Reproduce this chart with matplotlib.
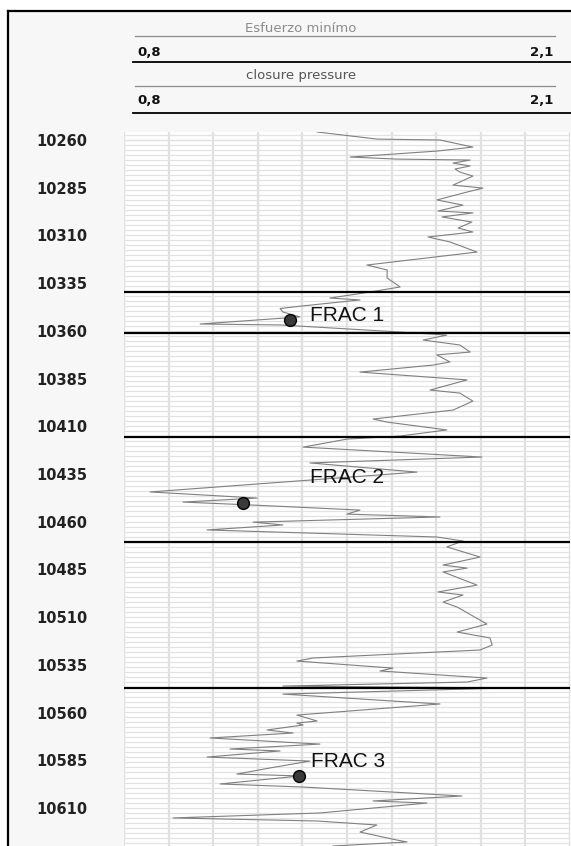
import numpy as np
import matplotlib
matplotlib.use("Agg")
import matplotlib.pyplot as plt
from matplotlib.patches import Rectangle

# curva de esfuerzo mínimo (closure pressure) vs profundidad (ft)
stress = [
    1.363, 1.537, 1.721, 1.817, 1.712, 1.459, 1.596, 1.809, 1.759, 1.809,
    1.765, 1.779, 1.817, 1.759, 1.846, 1.788, 1.712, 1.788, 1.715, 1.817,
    1.727, 1.814, 1.774, 1.817, 1.686, 1.750, 1.829, 1.508, 1.567, 1.567,
    1.605, 1.497, 1.400, 1.488, 1.322, 1.255, 1.263, 1.313, 1.022, 1.255,
    1.605, 1.741, 1.672, 1.779, 1.809, 1.712, 1.750, 1.701, 1.488, 1.800,
    1.692, 1.779, 1.817, 1.759, 1.526, 1.567, 1.741, 1.605, 1.450, 1.322,
    1.843, 1.342, 1.654, 0.876, 1.188, 0.972, 1.167, 1.488, 1.450, 1.721,
    1.176, 1.263, 1.042, 1.712, 1.788, 1.741, 1.838, 1.730, 1.800, 1.730,
    1.829, 1.715, 1.788, 1.730, 1.771, 1.858, 1.771, 1.867, 1.873, 1.838,
    1.351, 1.304, 1.584, 1.546, 1.858, 1.800, 1.263, 1.916, 1.263, 1.721,
    1.304, 1.363, 1.304, 1.322, 1.217, 1.293, 1.051, 1.371, 1.109, 1.255,
    1.042, 1.342, 1.226, 1.129, 1.313, 1.080, 1.322, 1.785, 1.526, 1.683,
    1.371, 0.943, 1.363, 1.537, 1.488, 1.596, 1.625, 1.409,
]
depth = [
    10255.8, 10259.5, 10260.0, 10263.7, 10265.8, 10268.9, 10270.0, 10270.5, 10272.1, 10273.6,
    10275.2, 10276.8, 10278.9, 10283.6, 10285.2, 10287.8, 10291.4, 10294.1, 10297.2, 10298.2,
    10300.3, 10303.0, 10306.1, 10308.2, 10310.8, 10313.4, 10318.7, 10325.5, 10328.1, 10332.3,
    10337.0, 10340.2, 10342.8, 10343.8, 10346.9, 10348.3, 10350.1, 10352.7, 10356.4, 10356.9,
    10360.6, 10362.2, 10364.8, 10367.4, 10371.1, 10372.6, 10376.3, 10377.9, 10381.6, 10385.7,
    10391.0, 10392.6, 10396.8, 10401.5, 10406.2, 10407.8, 10411.9, 10415.1, 10416.7, 10420.9,
    10426.1, 10429.2, 10434.0, 10444.4, 10447.6, 10449.7, 10451.2, 10453.9, 10456.0, 10457.5,
    10460.2, 10461.7, 10464.3, 10468.0, 10470.1, 10473.2, 10478.5, 10482.7, 10484.3, 10486.3,
    10493.2, 10496.8, 10498.4, 10502.1, 10504.7, 10513.6, 10517.8, 10520.9, 10524.6, 10527.2,
    10531.4, 10533.0, 10536.7, 10538.2, 10541.9, 10544.0, 10546.1, 10547.1, 10550.3, 10555.5,
    10561.3, 10564.4, 10565.5, 10566.5, 10569.1, 10570.7, 10573.3, 10576.5, 10579.1, 10580.1,
    10583.3, 10585.4, 10589.0, 10592.2, 10593.2, 10597.4, 10599.0, 10603.7, 10606.3, 10607.4,
    10612.6, 10615.2, 10616.8, 10618.9, 10622.6, 10626.8, 10627.8, 10629.9,
]

# fracturas
frac_labels = ["FRAC 1", "FRAC 2", "FRAC 3"]
frac_stress = [1.284, 1.147, 1.310]
frac_depth = [10354.3, 10450.2, 10593.2]
frac_text_stress = [1.342, 1.342, 1.345]
frac_text_depth = [10351.7, 10437.0, 10585.4]

# límites de zonas (líneas negras)
zone_lines = [10339.6, 10361.1, 10415.6, 10470.6, 10547.1]

depth_ticks = list(range(10260, 10611, 25))
x_min, x_max = 0.8, 2.1
depth_top, depth_bottom = 10255.8, 10629.9

W, H = 571, 846
fig = plt.figure(figsize=(W / 100, H / 100), dpi=100)
fig.patch.set_facecolor("white")

# capa de fondo en coordenadas de pixel
bg = fig.add_axes([0, 0, 1, 1])
bg.set_xlim(0, W)
bg.set_ylim(H, 0)
bg.axis("off")
bg.add_patch(Rectangle((8, 11), W - 8, H - 11, facecolor="#f7f7f7", edgecolor="none"))
bg.plot([8, 8], [11, H], color="black", lw=1.6)
bg.plot([8, W], [11, 11], color="black", lw=1.6)

# encabezado
hdr_font = dict(family="DejaVu Sans", fontsize=9.5)
bg.text(301, 28, "Esfuerzo minímo", color="#8c8c8c", ha="center", va="center", **hdr_font)
bg.plot([135, 555], [36, 36], color="#8c8c8c", lw=0.9)
bg.text(137, 52, "0,8", color="#111111", ha="left", va="center", fontweight="bold", **hdr_font)
bg.text(553, 52, "2,1", color="#111111", ha="right", va="center", fontweight="bold", **hdr_font)
bg.plot([133, W], [62, 62], color="black", lw=1.3)
bg.text(301, 75, "closure pressure", color="#555555", ha="center", va="center", **hdr_font)
bg.plot([135, 555], [86, 86], color="#8c8c8c", lw=0.9)
bg.text(137, 101, "0,8", color="#111111", ha="left", va="center", fontweight="bold", **hdr_font)
bg.text(553, 101, "2,1", color="#111111", ha="right", va="center", fontweight="bold", **hdr_font)
bg.plot([133, W], [113, 113], color="black", lw=1.3)

# pista de registro
ax = fig.add_axes([124 / W, 0, 446 / W, (H - 132) / H])
ax.set_facecolor("white")
ax.set_xlim(x_min, x_max)
ax.set_ylim(depth_bottom, depth_top)

for xv in np.linspace(x_min, x_max, 11):
    ax.axvline(xv, color="#e0e0e0", lw=1.6, zorder=1)
for yv in np.arange(10260, depth_bottom, 2.63):
    ax.axhline(yv, color="#e2e2e2", lw=0.9, zorder=1)
for yv in np.arange(10260, depth_top - 3, -2.63):
    ax.axhline(yv, color="#e2e2e2", lw=0.9, zorder=1)

for zl in zone_lines:
    ax.axhline(zl, color="black", lw=1.6, zorder=3)

ax.plot(stress, depth, color="#808080", lw=0.8, zorder=2)

ax.plot(frac_stress, frac_depth, "o", color="#3a3a3a", markeredgecolor="black",
        markersize=8.5, zorder=5)
for lbl, xs, ds in zip(frac_labels, frac_text_stress, frac_text_depth):
    ax.text(xs, ds, lbl, fontsize=15, family="Liberation Sans", color="#111111",
            ha="left", va="center", zorder=6)

ax.set_xticks([])
ax.set_yticks(depth_ticks)
ax.set_yticklabels([str(d) for d in depth_ticks], fontsize=10.5, fontweight="bold",
                   color="#222222", family="DejaVu Sans", ha="center")
ax.tick_params(axis="y", length=0, pad=45)
for s in ax.spines.values():
    s.set_visible(False)

fig.savefig("out.png", dpi=100, facecolor=fig.get_facecolor())
